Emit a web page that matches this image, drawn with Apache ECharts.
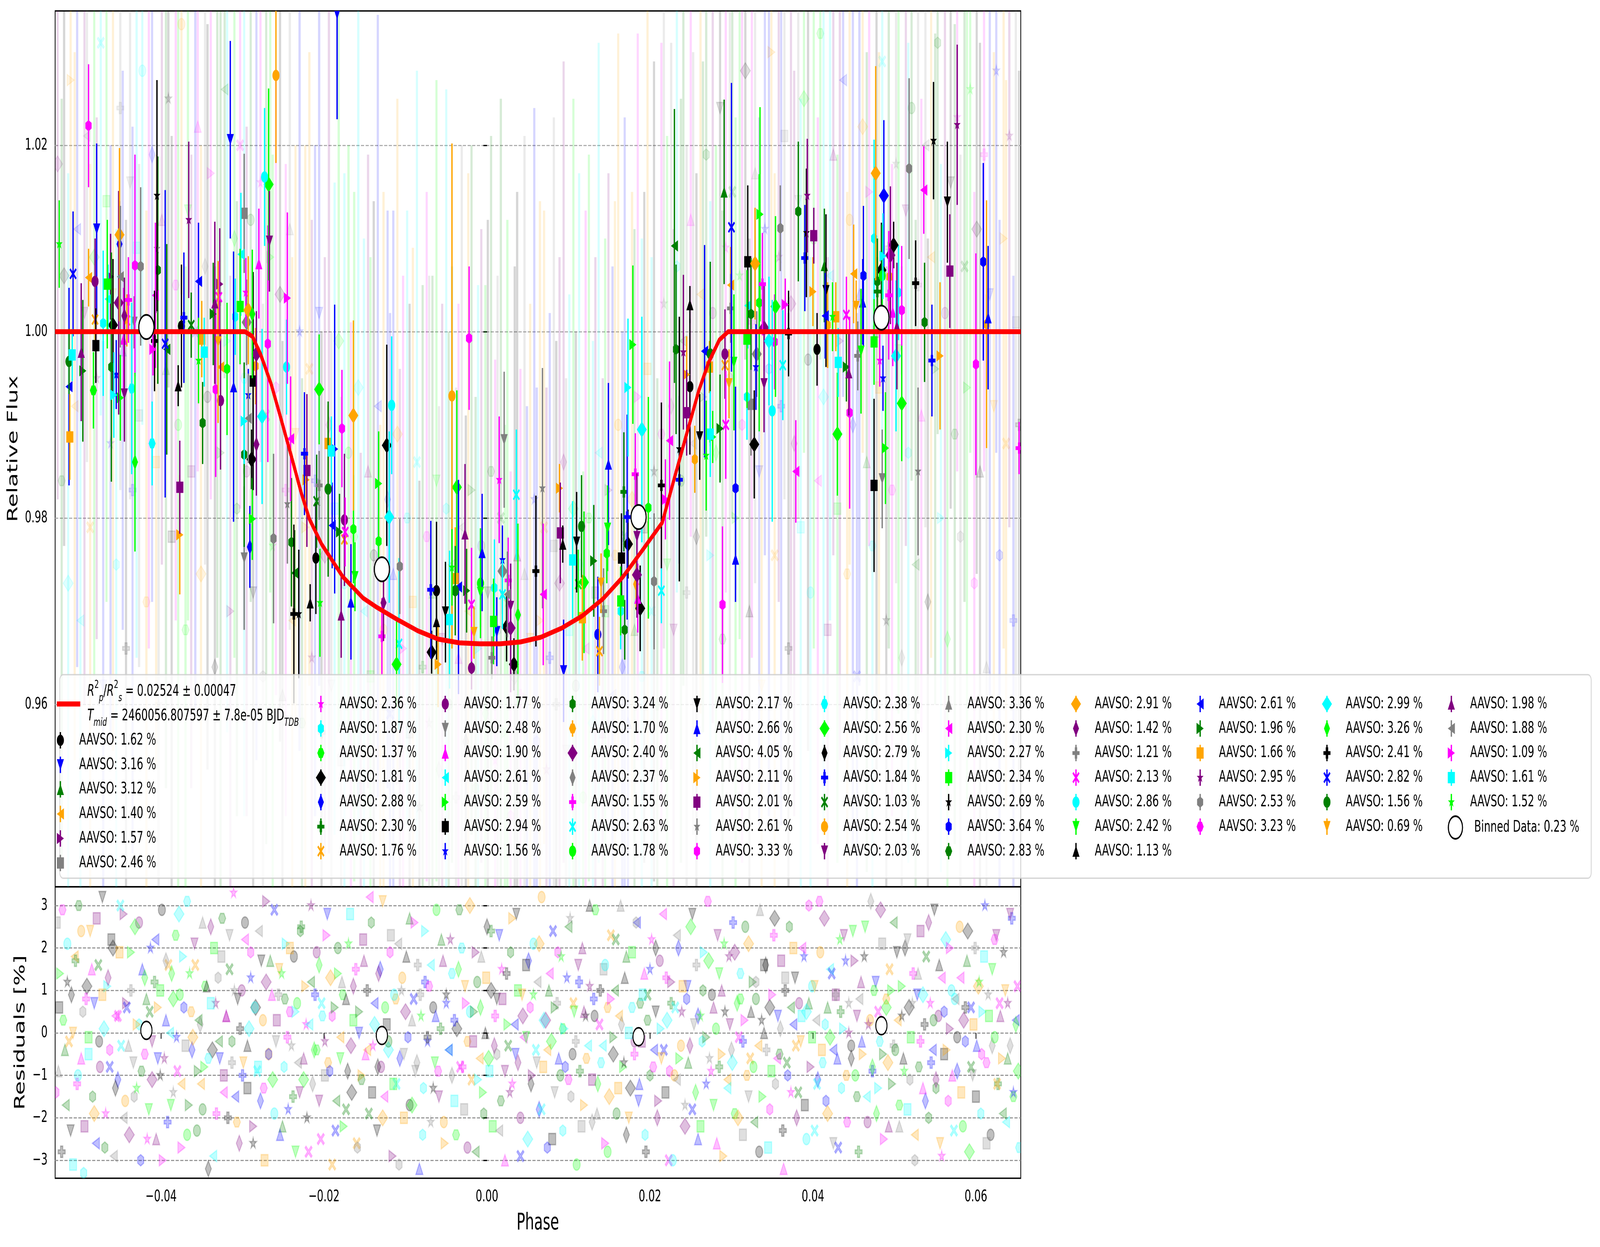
<!DOCTYPE html>
<html lang="en">
<head>
<meta charset="UTF-8">
<title>AAVSO transit fit</title>
<style>
  * { margin: 0; padding: 0; box-sizing: border-box; }
  html, body { width: 100%; height: 100%; background: #fff; overflow: hidden; }
  #chart-container { width: 6560px; height: 3192px; transform-origin: 0 0; }
</style>
</head>
<body>
<div id="chart-container"></div>
<script src="https://cdn.jsdelivr.net/npm/echarts@6.0.0/dist/echarts.min.js"></script>
<script>
// scatter (%) of every AAVSO light curve, legend order
const setLabels = ['1.62','3.16','3.12','1.40','1.57','2.46','2.36','1.87','1.37','1.81','2.88','2.30','1.76',
  '1.77','2.48','1.90','2.61','2.59','2.94','1.56','3.24','1.70','2.40','2.37','1.55','2.63','1.78',
  '2.17','2.66','4.05','2.11','2.01','2.61','3.33','2.38','2.56','2.79','1.84','1.03','2.54','2.03',
  '3.36','2.30','2.27','2.34','2.69','3.64','2.83','2.91','1.42','1.21','2.13','2.86','2.42','1.13',
  '2.61','1.96','1.66','2.95','2.53','3.23','2.99','3.26','2.41','2.82','1.56','0.69','1.98','1.88','1.09','1.61','1.52'];
const setColors = ['#000000', '#0000ff', '#008000', '#ffa500', '#800080', '#808080', '#ff00ff', '#00ffff', '#00ff00'];
const markerKeys = ['o', 'v', '^', '<', '>', 's', '*', 'h', 'H', 'D', 'd', 'P', 'X'];

const fitDepth = '0.02524 ± 0.00047';
const fitTmid = '2460056.807597 ± 7.8e-05';
const binLabel = '0.23';

const xTicks = [-0.04, -0.02, 0, 0.02, 0.04, 0.06];
const fluxTicks = [0.96, 0.98, 1.00, 1.02];
const residTicks = [-3, -2, -1, 0, 1, 2, 3];

// transit model
const modelPhase = [-0.0530, -0.0297, -0.0288, -0.0278, -0.0265, -0.0253, -0.0240, -0.0228, -0.0218, -0.0203, -0.0177, -0.0152,
  -0.0135, -0.0110, -0.0085, -0.0060, -0.0034, -0.0009, 0.0016, 0.0041, 0.0066, 0.0092, 0.0117, 0.0142, 0.0167, 0.0192,
  0.0215, 0.0230, 0.0243, 0.0260, 0.0272, 0.0285, 0.0296, 0.0655];
const modelFlux = [1.0000, 1.0000, 0.9995, 0.9976, 0.9944, 0.9907, 0.9866, 0.9827, 0.9799, 0.9772, 0.9737, 0.9714,
  0.9704, 0.9691, 0.9679, 0.9670, 0.9666, 0.9665, 0.9665, 0.9667, 0.9672, 0.9682, 0.9695, 0.9713, 0.9737, 0.9767,
  0.9795, 0.9843, 0.9884, 0.9937, 0.9967, 0.9991, 1.0000, 1.0000];

// binned data (white circles)
const binPhase = [-0.0418, -0.0129, 0.0186, 0.0484];
const binFlux = [1.0005, 0.9745, 0.9801, 1.0015];
const binResid = [0.06, -0.06, -0.09, 0.17];

// per-set binned points: [colour, marker, phase, flux, err]
const setPoints = [
[8,6,-0.0525,1.0094,0.0047],[1,12,-0.0508,1.0062,0.0067],[1,3,-0.0513,0.9941,0.0106],[3,5,-0.0512,0.9887,0.0046],[7,5,-0.0509,0.9975,0.0028],[2,0,-0.0513,0.9968,0.0035],[4,2,-0.0498,0.9978,0.0074],[2,4,-0.0496,0.9958,0.0076],[6,7,-0.0489,1.0221,0.0066],[4,0,-0.0481,1.0054,0.0046],
[3,3,-0.0489,1.0058,0.0031],[1,1,-0.0479,1.0110,0.0092],[3,12,-0.0481,1.0013,0.0030],[0,5,-0.0480,0.9985,0.0040],[8,8,-0.0483,0.9937,0.0041],[7,7,-0.0471,1.0009,0.0078],[8,5,-0.0466,1.0051,0.0069],[7,3,-0.0465,1.0035,0.0037],[0,9,-0.0459,1.0007,0.0071],[2,7,-0.0461,0.9962,0.0123],
[4,4,-0.0462,1.0059,0.0046],[5,3,-0.0450,1.0059,0.0076],[3,9,-0.0451,1.0104,0.0093],[1,10,-0.0451,1.0094,0.0046],[4,9,-0.0452,1.0031,0.0120],[6,2,-0.0446,0.9992,0.0055],[6,11,-0.0440,1.0034,0.0046],[3,12,-0.0442,1.0012,0.0028],[4,10,-0.0445,1.0017,0.0041],[1,6,-0.0455,0.9954,0.0037],
[7,4,-0.0458,0.9932,0.0046],[8,4,-0.0450,0.9929,0.0046],[4,1,-0.0445,0.9933,0.0051],[7,8,-0.0436,0.9939,0.0092],[6,7,-0.0432,1.0071,0.0119],[5,7,-0.0425,1.0070,0.0085],[5,1,-0.0433,1.0010,0.0028],[8,10,-0.0432,0.9860,0.0096],[7,8,-0.0411,0.9880,0.0045],[6,3,-0.0407,1.0039,0.0078],
[6,4,-0.0410,0.9981,0.0028],[0,6,-0.0405,1.0146,0.0124],[5,6,-0.0405,1.0089,0.0069],[2,7,-0.0404,1.0066,0.0122],[0,11,-0.0408,0.9990,0.0054],[1,12,-0.0395,0.9987,0.0165],[2,3,-0.0393,0.9981,0.0113],[0,0,-0.0375,1.0006,0.0066],[1,11,-0.0372,1.0015,0.0070],[2,12,-0.0363,1.0007,0.0035],
[0,2,-0.0379,0.9942,0.0022],[4,6,-0.0366,1.0120,0.0084],[4,5,-0.0377,0.9833,0.0050],[3,4,-0.0377,0.9782,0.0064],[1,3,-0.0354,1.0054,0.0063],[8,6,-0.0354,0.9969,0.0046],[2,7,-0.0349,0.9902,0.0044],[3,5,-0.0350,0.9992,0.0041],[7,5,-0.0347,0.9978,0.0037],[1,1,-0.0315,1.0206,0.0106],
[2,4,-0.0336,1.0019,0.0055],[4,2,-0.0334,1.0031,0.0087],[4,4,-0.0328,1.0051,0.0060],[6,12,-0.0329,1.0037,0.0038],[3,1,-0.0330,0.9989,0.0087],[3,3,-0.0327,0.9962,0.0028],[6,7,-0.0333,0.9938,0.0094],[4,0,-0.0327,0.9926,0.0074],[8,7,-0.0319,0.9960,0.0071],[1,2,-0.0311,0.9941,0.0145],
[7,3,-0.0302,1.0083,0.0066],[7,7,-0.0309,1.0016,0.0041],[8,5,-0.0303,1.0027,0.0062],[5,5,-0.0298,1.0127,0.0064],[6,6,-0.0296,1.0042,0.0037],[3,9,-0.0293,1.0023,0.0058],[5,9,-0.0295,1.0010,0.0046],[8,10,-0.0288,1.0019,0.0069],[2,7,-0.0298,0.9868,0.0099],[0,5,-0.0287,0.9947,0.0117],
[0,9,-0.0289,0.9863,0.0032],[1,6,-0.0293,0.9932,0.0028],[5,3,-0.0293,0.9907,0.0048],[7,4,-0.0298,0.9904,0.0046],[8,4,-0.0288,0.9799,0.0044],[1,10,-0.0291,0.9769,0.0044],[5,1,-0.0298,0.9757,0.0077],[4,9,-0.0283,0.9976,0.0046],[3,7,-0.0284,0.9963,0.0041],[4,10,-0.0283,0.9879,0.0055],
[7,9,-0.0276,0.9909,0.0094],[6,2,-0.0280,1.0073,0.0059],[6,7,-0.0269,0.9987,0.0127],[7,0,-0.0273,1.0166,0.0074],[8,9,-0.0268,1.0158,0.0103],[4,1,-0.0267,1.0097,0.0054],[3,0,-0.0259,1.0275,0.0094],[5,7,-0.0262,0.9778,0.0091],[6,4,-0.0245,1.0036,0.0092],[7,0,-0.0246,0.9962,0.0051],
[6,3,-0.0241,0.9885,0.0067],[2,7,-0.0240,0.9774,0.0069],[2,3,-0.0236,0.9741,0.0046],[5,6,-0.0245,0.9815,0.0064],[0,11,-0.0237,0.9697,0.0096],[0,6,-0.0231,0.9697,0.0069],[1,11,-0.0224,0.9869,0.0066],[4,5,-0.0221,0.9851,0.0082],[3,4,-0.0222,0.9841,0.0028],[8,9,-0.0206,0.9938,0.0059],
[5,11,-0.0206,0.9835,0.0037],[2,12,-0.0209,0.9818,0.0050],[0,0,-0.0210,0.9757,0.0060],[0,2,-0.0217,0.9709,0.0020],[8,6,-0.0205,0.9709,0.0058],[2,0,-0.0195,0.9831,0.0094],[3,5,-0.0195,0.9880,0.0041],[7,5,-0.0191,0.9872,0.0037],[1,4,-0.0187,0.9874,0.0155],[1,3,-0.0190,0.9792,0.0046],
[2,4,-0.0181,0.9785,0.0041],[6,7,-0.0178,0.9896,0.0063],[4,0,-0.0175,0.9798,0.0071],[6,12,-0.0174,0.9785,0.0037],[3,12,-0.0175,0.9777,0.0046],[3,9,-0.0164,0.9910,0.0102],[8,7,-0.0164,0.9788,0.0058],[8,1,-0.0162,0.9737,0.0037],[1,2,-0.0167,0.9710,0.0062],[4,2,-0.0179,0.9696,0.0046],
[1,1,-0.0184,1.0341,0.0113],
[8,4,-0.0133,0.9837,0.0056],[8,7,-0.0133,0.9775,0.0028],[0,9,-0.0123,0.9878,0.0108],[7,0,-0.0117,0.9921,0.0074],[7,9,-0.0120,0.9801,0.0092],[4,10,-0.0127,0.9709,0.0041],[6,11,-0.0129,0.9673,0.0041],[5,7,-0.0107,0.9748,0.0051],[7,12,-0.0108,0.9665,0.0092],[8,9,-0.0111,0.9643,0.0046],
[1,11,-0.0069,0.9723,0.0074],[0,0,-0.0062,0.9722,0.0074],[0,2,-0.0062,0.9689,0.0028],[0,9,-0.0068,0.9656,0.0023],[0,1,-0.0051,0.9699,0.0054],[3,4,-0.0060,0.9643,0.0046],[7,5,-0.0046,0.9691,0.0074],[3,5,-0.0039,0.9735,0.0055],[2,0,-0.0039,0.9722,0.0048],[8,6,-0.0043,0.9747,0.0041],
[3,0,-0.0043,0.9931,0.0271],[8,9,-0.0037,0.9833,0.0104],[1,3,-0.0035,0.9726,0.0115],[4,2,-0.0027,0.9783,0.0075],[2,4,-0.0025,0.9722,0.0045],[6,7,-0.0022,0.9993,0.0077],[6,12,-0.0019,0.9707,0.0061],[3,1,-0.0016,0.9677,0.0028],[4,0,-0.0019,0.9639,0.0023],[1,2,-0.0006,0.9763,0.0063],
[8,0,-0.0008,0.9730,0.0059],[8,1,-0.0008,0.9720,0.0037],[8,5,0.0008,0.9689,0.0046],[7,7,0.0009,0.9725,0.0052],[1,1,0.0012,0.9678,0.0037],[5,11,0.0006,0.9650,0.0023],[6,6,0.0015,0.9841,0.0068],[5,1,0.0021,0.9884,0.0073],[1,6,0.0019,0.9755,0.0037],[5,9,0.0019,0.9743,0.0046],
[7,12,0.0019,0.9718,0.0037],[6,11,0.0026,0.9733,0.0046],[5,3,0.0025,0.9718,0.0046],[0,9,0.0024,0.9683,0.0037],[4,9,0.0029,0.9682,0.0069],[4,1,0.0029,0.9705,0.0046],[7,12,0.0036,0.9825,0.0070],[8,10,0.0038,0.9696,0.0098],[0,9,0.0033,0.9643,0.0028],[0,11,0.0060,0.9743,0.0081],
[5,6,0.0068,0.9832,0.0129],[6,3,0.0069,0.9718,0.0076],[3,4,0.0089,0.9832,0.0026],[4,5,0.0090,0.9784,0.0054],[0,2,0.0093,0.9772,0.0020],[1,1,0.0094,0.9636,0.0055],[7,5,0.0105,0.9755,0.0063],[0,1,0.0110,0.9774,0.0054],[8,12,0.0112,0.9729,0.0037],[8,9,0.0119,0.9731,0.0076],
[2,0,0.0116,0.9791,0.0055],[3,5,0.0117,0.9693,0.0046],[2,4,0.0131,0.9754,0.0060],[1,0,0.0136,0.9675,0.0062],[3,12,0.0138,0.9657,0.0037],[5,11,0.0143,0.9700,0.0046],[3,1,0.0140,0.9730,0.0032],[1,2,0.0149,0.9858,0.0087],[8,1,0.0148,0.9789,0.0046],[8,7,0.0147,0.9762,0.0032],
[0,5,0.0165,0.9757,0.0048],[8,5,0.0164,0.9711,0.0037],[7,7,0.0164,0.9700,0.0041],[2,7,0.0169,0.9680,0.0032],[2,11,0.0168,0.9828,0.0064],[1,11,0.0172,0.9801,0.0110],[0,9,0.0173,0.9772,0.0037],[7,4,0.0173,0.9940,0.0074],[8,4,0.0179,0.9986,0.0085],[6,11,0.0182,0.9847,0.0044],
[4,1,0.0184,0.9780,0.0068],[4,9,0.0184,0.9739,0.0046],[6,2,0.0185,0.9714,0.0037],[0,9,0.0188,0.9703,0.0046],[3,10,0.0183,0.9729,0.0028],[7,9,0.0190,0.9895,0.0121],[8,7,0.0198,0.9811,0.0119],[5,7,0.0205,0.9732,0.0073],[0,11,0.0214,0.9835,0.0089],[7,12,0.0214,0.9722,0.0035],
[6,3,0.0224,0.9883,0.0085],[6,4,0.0219,0.9820,0.0043],[2,3,0.0230,1.0092,0.0147],[2,7,0.0232,0.9981,0.0091],[4,6,0.0241,0.9978,0.0083],[0,2,0.0249,1.0029,0.0020],[3,4,0.0245,0.9954,0.0041],[0,0,0.0249,0.9941,0.0073],[4,5,0.0245,0.9913,0.0046],[3,7,0.0255,0.9863,0.0036],
[1,11,0.0236,0.9841,0.0090],[0,6,0.0236,0.9874,0.0142],
[0,1,0.0261,0.9887,0.0046],[1,3,0.0267,0.9979,0.0114],[2,0,0.0274,0.9976,0.0099],[3,5,0.0273,0.9962,0.0028],[7,5,0.0274,0.9890,0.0046],[8,6,0.0269,0.9867,0.0059],[8,4,0.0277,0.9887,0.0028],[2,4,0.0286,0.9896,0.0058],[4,0,0.0292,0.9976,0.0048],[3,12,0.0292,0.9964,0.0028],
[6,12,0.0293,0.9900,0.0058],[6,7,0.0289,0.9707,0.0084],[2,2,0.0291,1.0150,0.0099],[1,12,0.0300,1.0112,0.0155],[5,11,0.0299,1.0025,0.0037],[3,3,0.0299,1.0050,0.0041],[3,1,0.0297,0.9944,0.0037],[8,1,0.0303,0.9967,0.0073],[1,7,0.0305,0.9832,0.0109],[1,2,0.0305,0.9756,0.0046],
[0,5,0.0320,1.0075,0.0082],[3,9,0.0329,1.0073,0.0060],[8,4,0.0335,1.0126,0.0115],[7,3,0.0320,1.0028,0.0046],[8,5,0.0319,0.9992,0.0074],[7,7,0.0319,0.9930,0.0046],[5,5,0.0324,0.9922,0.0055],[0,9,0.0328,0.9879,0.0058],[2,7,0.0324,1.0019,0.0060],[8,7,0.0334,1.0031,0.0138],
[6,11,0.0338,1.0051,0.0055],[5,9,0.0331,0.9976,0.0046],[1,6,0.0330,0.9962,0.0046],[4,9,0.0340,1.0004,0.0046],[4,1,0.0340,0.9944,0.0052],[7,9,0.0346,0.9990,0.0069],[7,0,0.0350,0.9915,0.0119],[6,7,0.0353,0.9989,0.0051],[8,9,0.0354,1.0027,0.0097],[5,7,0.0360,1.0111,0.0046],
[7,12,0.0363,0.9964,0.0059],[6,4,0.0366,1.0029,0.0028],[0,11,0.0370,0.9998,0.0046],[6,3,0.0379,0.9850,0.0055],[2,7,0.0382,1.0129,0.0075],[4,6,0.0393,1.0146,0.0061],[0,6,0.0392,1.0106,0.0069],[1,11,0.0390,1.0079,0.0057],[4,5,0.0401,1.0103,0.0030],[3,4,0.0400,1.0043,0.0037],
[0,0,0.0405,0.9981,0.0039],[2,2,0.0414,1.0071,0.0061],[0,1,0.0416,1.0044,0.0082],[1,3,0.0415,1.0017,0.0046],[8,6,0.0424,1.0016,0.0037],[3,5,0.0428,1.0016,0.0037],[3,7,0.0418,1.0007,0.0046],[7,5,0.0431,0.9967,0.0037],[8,9,0.0430,0.9890,0.0066],[2,4,0.0441,0.9962,0.0037],
[4,2,0.0444,0.9956,0.0046],[6,12,0.0441,1.0018,0.0041],[6,7,0.0445,0.9913,0.0103],[3,3,0.0450,1.0062,0.0053],[3,1,0.0453,1.0027,0.0028],[5,11,0.0455,0.9974,0.0037],[8,1,0.0459,0.9979,0.0067],[1,2,0.0461,1.0032,0.0046],[1,7,0.0462,1.0060,0.0075],[3,9,0.0477,1.0170,0.0115],
[1,9,0.0487,1.0146,0.0081],[8,5,0.0475,0.9989,0.0046],[0,5,0.0475,0.9835,0.0093],[5,1,0.0485,0.9842,0.0053],[2,7,0.0479,1.0054,0.0046],[2,11,0.0479,1.0043,0.0037],[0,9,0.0484,1.0066,0.0051],[7,7,0.0475,1.0100,0.0106],[8,0,0.0485,1.0060,0.0055],[7,4,0.0486,1.0081,0.0046],
[4,9,0.0495,1.0082,0.0074],[3,7,0.0494,1.0059,0.0037],[6,11,0.0493,1.0039,0.0069],[6,2,0.0498,1.0021,0.0058],[6,6,0.0482,0.9969,0.0028],[1,6,0.0486,0.9950,0.0035],[8,4,0.0489,0.9875,0.0060],[4,2,0.0503,1.0006,0.0068],[0,9,0.0499,1.0093,0.0025],[7,7,0.0505,1.0042,0.0051],
[6,7,0.0509,1.0023,0.0069],[7,9,0.0502,0.9974,0.0081],[8,9,0.0509,0.9923,0.0062],[5,7,0.0518,1.0175,0.0097],[0,11,0.0526,1.0052,0.0046],[6,3,0.0536,1.0152,0.0047],[2,7,0.0537,1.0010,0.0064],[1,11,0.0546,0.9969,0.0060],[5,6,0.0529,0.9850,0.0090],[3,4,0.0556,0.9974,0.0079],
[0,6,0.0548,1.0205,0.0063],[0,1,0.0565,1.0139,0.0065],[4,5,0.0568,1.0065,0.0061],[4,6,0.0577,1.0222,0.0086],[6,7,0.0600,0.9965,0.0119],[1,7,0.0609,1.0075,0.0106],[3,7,0.0613,1.0008,0.0133],[1,2,0.0615,1.0015,0.0077],[6,11,0.0653,0.9875,0.0028]
];

// unbinned points (faint): [set, phase, flux, err]
const rawPoints = [
[22,-0.0527,1.018,0.036],[47,-0.0522,0.984,0.041],[9,-0.0519,1.006,0.029],[61,-0.0514,0.973,0.044],[30,-0.0511,1.027,0.033],[3,-0.0506,0.992,0.038],[55,-0.0503,1.011,0.047],[16,-0.0499,0.969,0.031],[40,-0.0494,1.002,0.042],[68,-0.0491,1.021,0.035],
[12,-0.0487,0.979,0.039],[35,-0.0482,1.008,0.045],[58,-0.0479,0.995,0.028],[25,-0.0474,1.031,0.040],[1,-0.0471,0.962,0.037],[44,-0.0467,1.014,0.043],[19,-0.0462,0.988,0.032],[66,-0.0459,1.004,0.049],[7,-0.0455,0.975,0.036],[50,-0.0450,1.024,0.041],
[28,-0.0447,0.998,0.030],[63,-0.0443,0.966,0.046],[14,-0.0438,1.016,0.034],[37,-0.0435,0.983,0.039],[70,-0.0430,1.009,0.044],[5,-0.0427,0.991,0.027],[52,-0.0423,1.028,0.038],[21,-0.0418,0.971,0.042],[42,-0.0415,1.001,0.035],[10,-0.0411,1.019,0.048],
[57,-0.0406,0.986,0.033],[32,-0.0403,0.960,0.040],[67,-0.0399,1.012,0.037],[2,-0.0394,0.996,0.045],[45,-0.0391,1.025,0.031],[18,-0.0387,0.978,0.043],[60,-0.0382,1.005,0.036],[26,-0.0379,0.990,0.050],[39,-0.0375,1.033,0.029],[8,-0.0370,0.968,0.039],
[53,-0.0367,1.013,0.044],[31,-0.0363,0.985,0.034],[64,-0.0358,1.000,0.041],[15,-0.0355,1.022,0.037],[48,-0.0351,0.974,0.046],[23,-0.0346,1.007,0.032],[0,-0.0343,0.993,0.040],[69,-0.0339,1.017,0.035],[36,-0.0334,0.964,0.043],[11,-0.0331,1.003,0.038],
[56,-0.0327,0.987,0.048],[29,-0.0322,1.026,0.031],[43,-0.0319,0.999,0.042],[4,-0.0315,0.970,0.036],[62,-0.0310,1.010,0.045],[20,-0.0307,0.981,0.033],[51,-0.0303,1.020,0.039],[34,-0.0298,0.995,0.047],
[13,-0.0295,0.985,0.037],[65,-0.0290,1.012,0.041],[27,-0.0287,0.972,0.034],[46,-0.0283,0.998,0.044],[6,-0.0278,1.016,0.030],[59,-0.0275,0.963,0.040],[38,-0.0271,0.991,0.046],[17,-0.0266,1.008,0.036],[71,-0.0263,0.977,0.042],[33,-0.0259,0.994,0.033],
[9,-0.0254,1.004,0.048],[54,-0.0251,0.961,0.038],[24,-0.0247,0.983,0.035],[41,-0.0242,1.011,0.043],[3,-0.0239,0.969,0.039],[66,-0.0235,0.989,0.031],[19,-0.0230,1.000,0.045],[47,-0.0227,0.958,0.037],[30,-0.0223,0.979,0.041],[12,-0.0218,0.996,0.034],
[58,-0.0215,0.965,0.047],[37,-0.0211,0.984,0.036],[1,-0.0206,1.002,0.040],[63,-0.0203,0.957,0.043],[22,-0.0199,0.976,0.032],[49,-0.0194,0.990,0.046],[14,-0.0191,0.962,0.038],[70,-0.0187,0.981,0.035],[35,-0.0182,0.999,0.042],[5,-0.0179,0.954,0.039],
[52,-0.0175,0.973,0.044],[26,-0.0170,0.987,0.033],[42,-0.0167,0.960,0.041],[8,-0.0163,0.978,0.037],[61,-0.0158,0.994,0.048],[31,-0.0155,0.951,0.036],[16,-0.0151,0.970,0.040],[67,-0.0146,0.985,0.034],[44,-0.0143,0.963,0.045],[0,-0.0139,0.976,0.038],
[55,-0.0134,0.992,0.042],[21,-0.0131,0.955,0.035],[39,-0.0127,0.968,0.047],[10,-0.0122,0.982,0.031],[64,-0.0119,0.959,0.043],[28,-0.0115,0.974,0.039],[48,-0.0110,0.989,0.036],[4,-0.0107,0.952,0.044],[69,-0.0103,0.966,0.040],[34,-0.0098,0.980,0.033],
[18,-0.0095,0.957,0.046],[57,-0.0091,0.971,0.038],[25,-0.0086,0.986,0.042],[45,-0.0083,0.949,0.035],[11,-0.0079,0.964,0.041],[60,-0.0074,0.978,0.037],[32,-0.0071,0.958,0.048],[2,-0.0067,0.972,0.034],[53,-0.0062,0.984,0.043],[23,-0.0059,0.953,0.039],
[40,-0.0055,0.967,0.036],[7,-0.0050,0.981,0.045],[65,-0.0047,0.960,0.040],[29,-0.0043,0.975,0.032],[50,-0.0038,0.950,0.044],[15,-0.0035,0.965,0.038],[68,-0.0031,0.979,0.041],[36,-0.0026,0.956,0.035],[3,-0.0023,0.970,0.047],[56,-0.0019,0.983,0.037],
[20,-0.0014,0.951,0.042],[43,-0.0011,0.966,0.039],[13,-0.0007,0.977,0.034],[62,-0.0002,0.959,0.046],[27,0.0001,0.972,0.040],[47,0.0005,0.985,0.036],[6,0.0010,0.954,0.043],[59,0.0013,0.968,0.038],[38,0.0017,0.980,0.045],[17,0.0022,0.957,0.033],
[71,0.0025,0.971,0.041],[33,0.0029,0.948,0.037],[9,0.0034,0.963,0.044],[54,0.0037,0.976,0.039],[24,0.0041,0.961,0.035],[41,0.0046,0.974,0.047],[1,0.0049,0.952,0.040],[66,0.0053,0.967,0.036],[19,0.0058,0.982,0.042],[46,0.0061,0.956,0.038],
[30,0.0065,0.969,0.045],[12,0.0070,0.979,0.034],[58,0.0073,0.953,0.041],[37,0.0077,0.965,0.037],[5,0.0082,0.977,0.046],[63,0.0085,0.960,0.039],[22,0.0089,0.973,0.035],[49,0.0094,0.986,0.043],[14,0.0097,0.955,0.040],[70,0.0101,0.968,0.036],
[35,0.0106,0.981,0.044],[0,0.0109,0.962,0.038],[52,0.0113,0.975,0.042],[26,0.0118,0.950,0.035],[42,0.0121,0.966,0.047],[8,0.0125,0.980,0.039],[61,0.0130,0.958,0.041],[31,0.0133,0.972,0.036],[16,0.0137,0.987,0.044],[67,0.0142,0.957,0.038],
[44,0.0145,0.970,0.040],[4,0.0149,0.983,0.034],[55,0.0154,0.961,0.046],[21,0.0157,0.976,0.038],[39,0.0161,0.990,0.042],[10,0.0166,0.964,0.036],[64,0.0169,0.978,0.045],[28,0.0173,0.958,0.040],[48,0.0178,0.982,0.033],[2,0.0181,0.968,0.043],
[69,0.0185,0.993,0.039],[34,0.0190,0.963,0.047],[18,0.0193,0.979,0.036],[57,0.0197,0.996,0.041],[25,0.0202,0.970,0.038],[45,0.0205,0.985,0.044],[11,0.0209,0.960,0.035],[60,0.0214,0.989,0.042],[32,0.0217,1.003,0.037],[53,0.0221,0.975,0.046],
[23,0.0226,0.992,0.039],[40,0.0229,0.968,0.043],[7,0.0233,1.007,0.035],[65,0.0238,0.984,0.041],[29,0.0241,0.999,0.037],[50,0.0245,0.972,0.048],[15,0.0250,1.012,0.034],[68,0.0253,0.988,0.042],[36,0.0257,0.978,0.039],[3,0.0262,1.004,0.045],
[56,0.0265,0.993,0.036],[20,0.0269,1.019,0.041],[43,0.0274,0.976,0.038],[13,0.0277,1.002,0.044],[62,0.0281,0.987,0.033],[27,0.0286,1.024,0.040],[47,0.0289,0.967,0.046],[6,0.0293,1.009,0.037],[59,0.0298,0.995,0.042],[38,0.0301,1.015,0.035],
[17,0.0305,0.980,0.043],[71,0.0310,1.006,0.039],[33,0.0313,0.990,0.047],[9,0.0317,1.028,0.031],[54,0.0322,0.970,0.040],[24,0.0325,1.001,0.036],[41,0.0329,1.017,0.044],[1,0.0334,0.985,0.038],[66,0.0337,0.962,0.042],[19,0.0341,1.011,0.035],
[46,0.0346,0.996,0.048],[30,0.0349,1.030,0.033],[12,0.0353,0.976,0.041],[58,0.0358,1.008,0.037],[37,0.0361,0.992,0.045],[5,0.0365,1.021,0.039],[63,0.0370,0.966,0.036],[22,0.0373,1.003,0.043],[49,0.0377,0.988,0.040],[14,0.0382,1.014,0.034],
[70,0.0385,0.979,0.046],[35,0.0389,1.025,0.038],[0,0.0394,0.997,0.042],[52,0.0397,0.972,0.036],[26,0.0401,1.010,0.044],[42,0.0406,0.984,0.039],[8,0.0409,1.032,0.035],[61,0.0413,0.993,0.047],[31,0.0418,0.968,0.040],[16,0.0421,1.006,0.037],
[67,0.0425,1.019,0.043],[44,0.0430,0.981,0.038],[4,0.0433,0.999,0.045],[55,0.0437,1.027,0.034],[21,0.0442,0.974,0.041],[39,0.0445,1.012,0.037],[10,0.0449,0.990,0.046],[64,0.0454,0.963,0.039],[28,0.0457,1.004,0.042],[48,0.0461,1.022,0.035],
[2,0.0466,0.986,0.044],[69,0.0469,1.015,0.038],[34,0.0473,0.977,0.040],[18,0.0478,1.000,0.047],[57,0.0481,0.994,0.036],[25,0.0485,1.029,0.041],[45,0.0490,0.969,0.038],[11,0.0493,1.009,0.043],[60,0.0497,0.983,0.035],[32,0.0502,1.018,0.045],
[53,0.0505,0.998,0.039],[23,0.0509,0.965,0.042],[40,0.0514,1.013,0.036],[7,0.0517,0.987,0.044],[65,0.0521,1.024,0.040],[29,0.0526,0.975,0.037],[50,0.0529,1.005,0.046],[15,0.0533,0.991,0.034],[68,0.0538,1.020,0.041],[36,0.0541,0.971,0.039],
[3,0.0545,1.008,0.043],[56,0.0550,0.996,0.036],[20,0.0553,1.031,0.042],[43,0.0557,0.980,0.038],[13,0.0562,1.002,0.047],[62,0.0565,0.967,0.040],[27,0.0569,1.016,0.035],[47,0.0574,0.989,0.044],[6,0.0577,1.023,0.038],[59,0.0581,0.978,0.041],
[38,0.0586,1.007,0.036],[17,0.0589,0.994,0.045],[71,0.0593,1.026,0.039],[33,0.0598,0.973,0.042],[9,0.0601,1.011,0.037],[54,0.0605,0.985,0.046],[24,0.0610,1.019,0.034],[41,0.0613,0.964,0.040],[1,0.0617,1.004,0.043],[66,0.0622,0.992,0.038],
[19,0.0625,1.028,0.041],[46,0.0629,0.976,0.036],[30,0.0634,1.010,0.044],[12,0.0637,0.988,0.039],[58,0.0641,1.021,0.042],[37,0.0646,0.969,0.037],[5,0.0649,1.001,0.045],[63,0.0653,0.990,0.038]
];

// residuals in %: [set, phase, resid]
const residPoints = [
[5,-0.0528,2.6],[41,-0.0526,-0.9],[17,-0.0524,1.4],[63,-0.0522,-2.8],[8,-0.0520,0.3],[29,-0.0517,-1.7],[52,-0.0515,2.1],[12,-0.0513,-0.2],
[36,-0.0510,0.9],[70,-0.0508,-3.1],[3,-0.0506,1.8],[24,-0.0503,-1.2],[47,-0.0501,3.0],[15,-0.0498,-0.6],[59,-0.0496,0.5],[31,-0.0494,-2.2],
[9,-0.0491,1.1],[44,-0.0489,-0.1],[66,-0.0487,2.4],[20,-0.0484,-1.5],[1,-0.0482,0.7],[55,-0.0480,-2.6],[38,-0.0477,1.6],[13,-0.0475,-0.8],
[27,-0.0472,3.2],[61,-0.0470,0.1],[6,-0.0468,-1.9],[49,-0.0465,1.3],[33,-0.0463,-0.4],[18,-0.0461,2.2],[68,-0.0458,-2.9],[42,-0.0456,0.4],
[10,-0.0453,-1.1],[57,-0.0451,1.9],[25,-0.0449,-0.3],[4,-0.0446,2.8],[39,-0.0444,-1.6],[64,-0.0442,0.6],[22,-0.0439,-2.4],[50,-0.0437,1.0],
[14,-0.0434,-0.7],[35,-0.0432,2.5],[71,-0.0430,-1.3],[7,-0.0427,0.2],[46,-0.0425,-3.0],[28,-0.0423,1.5],[60,-0.0420,-0.5],[2,-0.0418,0.8],
[53,-0.0415,-1.8],[19,-0.0413,2.0],[40,-0.0411,-0.2],[11,-0.0408,1.2],[67,-0.0406,-2.5],[30,-0.0404,0.6],[45,-0.0401,-1.0],[0,-0.0399,2.9],
[58,-0.0396,-0.6],[23,-0.0394,1.7],[37,-0.0392,-2.1],[16,-0.0389,0.0],[62,-0.0387,1.4],[32,-0.0385,-1.4],[8,-0.0382,2.3],[51,-0.0380,-0.9],
[26,-0.0377,0.9],[69,-0.0375,-2.7],[43,-0.0373,1.8],[5,-0.0370,-0.3],[34,-0.0368,3.1],[56,-0.0366,-1.7],[21,-0.0363,0.5],[48,-0.0361,-0.1],
[12,-0.0358,1.6],[65,-0.0356,-2.3],[29,-0.0354,0.3],[3,-0.0351,-1.2],[41,-0.0349,2.6],[17,-0.0347,-0.8],[54,-0.0344,1.1],[36,-0.0342,-3.2],
[70,-0.0339,0.7],[9,-0.0337,-0.4],[44,-0.0335,2.0],[24,-0.0332,-1.9],[59,-0.0330,1.3],[1,-0.0328,-0.6],[47,-0.0325,2.7],[31,-0.0323,-1.0],
[15,-0.0320,0.4],[63,-0.0318,-2.0],[38,-0.0316,1.5],[20,-0.0313,-0.2],[6,-0.0311,3.3],[55,-0.0309,-1.5],[27,-0.0306,0.8],[49,-0.0304,-2.6],
[13,-0.0301,1.0],[66,-0.0299,-0.7],[42,-0.0297,2.2],[18,-0.0294,-1.3],[61,-0.0292,0.1],[33,-0.0290,1.9],[4,-0.0287,-2.2],[52,-0.0285,0.6],
[25,-0.0282,-0.9],[68,-0.0280,2.4],[10,-0.0278,-1.6],[39,-0.0275,0.3],[57,-0.0273,-3.0],[22,-0.0271,1.2],[46,-0.0268,-0.5],[2,-0.0266,1.7],
[35,-0.0263,-1.1],[64,-0.0261,2.9],[14,-0.0259,-0.2],[50,-0.0256,0.9],[28,-0.0254,-2.4],[71,-0.0252,1.4],[7,-0.0249,-0.8],[43,-0.0247,2.1],
[19,-0.0244,-1.8],[60,-0.0242,0.5],[32,-0.0240,-0.3],[0,-0.0237,1.8],[53,-0.0235,-2.8],[26,-0.0233,0.7],[40,-0.0230,-1.4],[11,-0.0228,2.5],
[67,-0.0225,-0.6],[30,-0.0223,1.1],[45,-0.0221,-2.0],[16,-0.0218,0.2],[58,-0.0216,3.0],[23,-0.0214,-1.2],[37,-0.0211,0.9],[8,-0.0209,-0.4],
[62,-0.0206,1.6],[51,-0.0204,-2.5],[34,-0.0202,0.4],[5,-0.0199,-1.0],[69,-0.0197,2.3],[21,-0.0195,-0.7],[48,-0.0192,1.3],[12,-0.0190,-3.1],
[56,-0.0187,0.6],[29,-0.0185,-1.6],[65,-0.0183,2.0],[3,-0.0180,-0.1],[41,-0.0178,1.2],[17,-0.0176,-2.2],[54,-0.0173,0.8],[36,-0.0171,-0.9],
[70,-0.0168,2.8],[9,-0.0166,-1.4],[44,-0.0164,0.3],[24,-0.0161,1.5],[59,-0.0159,-2.7],[1,-0.0157,0.0],[47,-0.0154,-1.1],[31,-0.0152,2.2],
[15,-0.0149,-0.5],[63,-0.0147,1.0],[38,-0.0145,-1.9],[20,-0.0142,2.6],[6,-0.0140,-0.3],[55,-0.0138,0.7],[27,-0.0135,-2.3],[49,-0.0133,1.4],
[13,-0.0130,-0.8],[66,-0.0128,3.1],[42,-0.0126,-1.5],[18,-0.0123,0.2],[61,-0.0121,-0.4],[33,-0.0119,1.9],[4,-0.0116,-2.9],[52,-0.0114,0.9],
[25,-0.0111,-1.2],[68,-0.0109,2.1],[10,-0.0107,-0.6],[39,-0.0104,1.3],[57,-0.0102,-2.0],[22,-0.0100,0.5],[46,-0.0097,-0.1],[2,-0.0095,2.7],
[35,-0.0092,-1.7],[64,-0.0090,0.8],[14,-0.0088,-0.9],[50,-0.0085,1.6],[28,-0.0083,-3.2],[71,-0.0081,0.4],[7,-0.0078,-1.3],[43,-0.0076,2.4],
[19,-0.0073,-0.2],[60,-0.0071,1.1],[32,-0.0069,-2.1],[0,-0.0066,0.6],[53,-0.0064,-0.7],[26,-0.0062,2.9],[40,-0.0059,-1.5],[11,-0.0057,0.1],
[67,-0.0054,1.7],[30,-0.0052,-2.6],[45,-0.0050,0.9],[16,-0.0047,-0.4],[58,-0.0045,2.2],[23,-0.0043,-1.0],[37,-0.0040,0.3],[8,-0.0038,-2.4],
[62,-0.0035,1.5],[51,-0.0033,-0.8],[34,-0.0031,2.0],[5,-0.0028,-1.8],[69,-0.0026,0.7],[21,-0.0024,-0.2],[48,-0.0021,3.0],[12,-0.0019,-1.1],
[56,-0.0016,0.5],[29,-0.0014,-2.8],[65,-0.0012,1.2],[3,-0.0009,-0.6],[41,-0.0007,1.8],[17,-0.0005,-1.4],[54,-0.0002,0.0],[36,0.0000,2.5],
[70,0.0003,-0.9],[9,0.0005,1.0],[44,0.0007,-2.2],[24,0.0010,0.4],[59,0.0012,-0.5],[1,0.0015,2.3],[47,0.0017,-1.6],[31,0.0019,0.8],
[15,0.0022,-3.0],[63,0.0024,1.4],[38,0.0026,-0.3],[20,0.0029,1.9],[6,0.0031,-1.2],[55,0.0034,0.2],[27,0.0036,2.8],[49,0.0038,-0.7],
[13,0.0041,-2.0],[66,0.0043,0.9],[42,0.0045,-0.1],[18,0.0048,1.6],[61,0.0050,-2.5],[33,0.0053,0.6],[4,0.0055,-1.0],[52,0.0057,2.1],
[25,0.0060,-0.4],[68,0.0062,1.2],[10,0.0064,-1.8],[39,0.0067,3.2],[57,0.0069,-0.8],[22,0.0072,0.3],[46,0.0074,-2.7],[2,0.0076,1.0],
[35,0.0079,-0.2],[64,0.0081,2.4],[14,0.0083,-1.4],[50,0.0086,0.7],[28,0.0088,-0.6],[71,0.0091,1.8],[7,0.0093,-2.3],[43,0.0095,0.1],
[19,0.0098,1.3],[60,0.0100,-1.1],[32,0.0102,2.7],[0,0.0105,-0.5],[53,0.0107,0.5],[26,0.0110,-3.1],[40,0.0112,1.6],[11,0.0114,-0.9],
[67,0.0117,2.0],[30,0.0119,-1.7],[45,0.0121,0.4],[16,0.0124,-0.3],[58,0.0126,1.1],[23,0.0129,-2.1],[37,0.0131,0.8],[8,0.0133,2.9],
[62,0.0136,-1.2],[51,0.0138,0.2],[34,0.0140,-0.7],[5,0.0143,1.5],[69,0.0145,-2.6],[21,0.0148,0.6],[48,0.0150,-1.5],[12,0.0152,2.3],
[56,0.0155,-0.1],[29,0.0157,1.0],[65,0.0159,-1.9],[3,0.0162,0.4],[41,0.0164,3.0],[17,0.0167,-0.8],[54,0.0169,1.3],[36,0.0171,-2.4],
[70,0.0174,0.0],[9,0.0176,-1.3],[44,0.0178,1.9],[24,0.0181,-0.5],[59,0.0183,2.6],[1,0.0186,-1.6],[47,0.0188,0.7],[31,0.0190,-0.2],
[15,0.0193,1.4],[63,0.0195,-2.8],[38,0.0197,0.9],[20,0.0200,-1.0],[6,0.0202,2.2],[55,0.0205,-0.4],[27,0.0207,0.5],[49,0.0209,-2.0],
[13,0.0212,1.7],[66,0.0214,-0.6],[42,0.0216,2.8],[18,0.0219,-1.4],[61,0.0221,0.3],[33,0.0224,-0.9],[4,0.0226,1.2],[52,0.0228,-3.0],
[25,0.0231,0.6],[68,0.0233,-1.1],[10,0.0235,2.0],[39,0.0238,-0.3],[57,0.0240,1.1],[22,0.0243,-2.2],[46,0.0245,0.8],[2,0.0247,-0.7],
[35,0.0250,2.5],[64,0.0252,-1.8],[14,0.0254,0.2],[50,0.0257,1.6],[28,0.0259,-2.5],[71,0.0262,0.4],[7,0.0264,-0.2],[43,0.0266,1.9],
[19,0.0269,-1.2],[60,0.0271,3.1],[32,0.0273,-0.6],[0,0.0276,0.9],[53,0.0278,-1.7],[26,0.0281,0.1],[40,0.0283,2.3],[11,0.0285,-0.8],
[67,0.0288,1.0],[30,0.0290,-2.9],[45,0.0292,0.5],[16,0.0295,-1.3],[58,0.0297,1.8],[23,0.0300,-0.4],[37,0.0302,2.6],[8,0.0304,-1.9],
[62,0.0307,0.7],[51,0.0309,-0.1],[34,0.0311,1.4],[5,0.0314,-2.4],[69,0.0316,0.3],[21,0.0319,-1.0],[48,0.0321,2.1],[12,0.0323,-0.6],
[56,0.0326,1.2],[29,0.0328,-2.1],[65,0.0330,0.8],[3,0.0333,-0.3],[41,0.0335,2.9],[17,0.0338,-1.5],[54,0.0340,0.0],[36,0.0342,1.6],
[70,0.0345,-2.7],[9,0.0347,0.6],[44,0.0349,-0.9],[24,0.0352,2.3],[59,0.0354,-1.2],[1,0.0357,0.4],[47,0.0359,-0.5],[31,0.0361,1.7],
[15,0.0364,-3.2],[63,0.0366,1.0],[38,0.0368,-0.7],[20,0.0371,2.5],[6,0.0373,-1.4],[55,0.0376,0.2],[27,0.0378,1.3],[49,0.0380,-2.0],
[13,0.0383,0.7],[66,0.0385,-0.2],[42,0.0387,2.0],[18,0.0390,-1.7],[61,0.0392,0.5],[33,0.0395,3.0],[4,0.0397,-0.8],[52,0.0399,1.1],
[25,0.0402,-2.3],[68,0.0404,0.3],[10,0.0406,-1.1],[39,0.0409,1.9],[57,0.0411,-0.4],[22,0.0414,2.7],[46,0.0416,-1.6],[2,0.0418,0.6],
[35,0.0421,-0.1],[64,0.0423,1.4],[14,0.0425,-2.6],[50,0.0428,0.9],[28,0.0430,-0.6],[71,0.0433,2.2],[7,0.0435,-1.3],[43,0.0437,0.1],
[19,0.0440,1.7],[60,0.0442,-2.1],[32,0.0444,0.7],[0,0.0447,-0.3],[53,0.0449,2.4],[26,0.0452,-1.0],[40,0.0454,0.4],[11,0.0456,-2.8],
[67,0.0459,1.2],[30,0.0461,-0.5],[45,0.0463,1.8],[16,0.0466,-1.5],[58,0.0468,0.2],[23,0.0471,3.1],[37,0.0473,-0.9],[8,0.0475,1.0],
[62,0.0478,-1.9],[51,0.0480,0.5],[34,0.0482,-0.2],[5,0.0485,2.1],[69,0.0487,-2.5],[21,0.0490,0.8],[48,0.0492,-0.7],[12,0.0494,1.5],
[56,0.0497,-1.2],[29,0.0499,2.6],[65,0.0501,-0.4],[3,0.0504,0.3],[41,0.0506,-2.2],[17,0.0509,1.1],[54,0.0511,-0.6],[36,0.0513,2.0],
[70,0.0516,-1.8],[9,0.0518,0.6],[44,0.0520,-0.1],[24,0.0523,1.4],[59,0.0525,-3.0],[1,0.0528,0.9],[47,0.0530,-0.8],[31,0.0532,2.4],
[15,0.0535,-1.3],[63,0.0537,0.2],[38,0.0539,1.8],[20,0.0542,-2.0],[6,0.0544,0.7],[55,0.0547,-0.4],[27,0.0549,2.9],[49,0.0551,-1.1],
[13,0.0554,0.4],[66,0.0556,-2.6],[42,0.0558,1.3],[18,0.0561,-0.5],[61,0.0563,2.2],[33,0.0566,-1.6],[4,0.0568,0.1],[52,0.0570,1.0],
[25,0.0573,-2.3],[68,0.0575,0.8],[10,0.0577,-0.9],[39,0.0580,2.5],[57,0.0582,-1.4],[22,0.0585,0.3],[46,0.0587,-0.2],[2,0.0589,1.7],
[35,0.0592,-2.8],[64,0.0594,0.6],[14,0.0596,-1.0],[50,0.0599,2.0],[28,0.0601,-0.3],[71,0.0604,1.2],[7,0.0606,-1.9],[43,0.0608,0.5],
[19,0.0611,3.0],[60,0.0613,-0.7],[32,0.0615,0.9],[0,0.0618,-2.4],[53,0.0620,1.5],[26,0.0623,-0.1],[40,0.0625,2.3],[11,0.0627,-1.2],
[67,0.0630,0.4],[30,0.0632,-0.6],[45,0.0634,1.9],[16,0.0637,-2.1],[58,0.0639,0.7],[23,0.0642,-0.3],[37,0.0644,2.7],[8,0.0646,-1.5],
[62,0.0649,0.2],[51,0.0651,1.1],[34,0.0653,-2.7],
[33,-0.0529,-1.4],[18,-0.0525,0.6],[60,-0.0521,2.9],[2,-0.0518,-0.4],[45,-0.0515,1.2],[27,-0.0511,-2.3],[66,-0.0508,0.0],[11,-0.0505,1.7],[52,-0.0502,-1.0],[39,-0.0498,2.4],
[7,-0.0495,-3.3],[24,-0.0492,0.8],[70,-0.0489,-0.5],[15,-0.0485,1.5],[48,-0.0482,-1.9],[31,-0.0479,2.7],[0,-0.0476,-0.2],[57,-0.0472,0.9],[20,-0.0469,-2.7],[43,-0.0466,1.1],
[64,-0.0463,-0.8],[9,-0.0459,2.0],[36,-0.0456,-1.3],[51,-0.0453,0.4],[25,-0.0450,3.0],[68,-0.0446,-2.0],[4,-0.0443,0.7],[41,-0.0440,-0.3],[17,-0.0437,1.9],[59,-0.0433,-1.5],
[30,-0.0430,0.2],[13,-0.0427,2.6],[47,-0.0424,-0.9],[62,-0.0420,1.3],[6,-0.0417,-2.5],[38,-0.0414,0.5],[22,-0.0411,-1.1],[55,-0.0407,2.2],[1,-0.0404,-0.6],[44,-0.0401,1.0],
[69,-0.0398,-3.0],[28,-0.0394,0.3],[12,-0.0391,1.6],[53,-0.0388,-1.7],[35,-0.0385,0.8],[19,-0.0381,-0.1],[61,-0.0378,2.8],[3,-0.0375,-1.2],[46,-0.0372,0.6],[26,-0.0368,-2.4],
[71,-0.0365,1.4],[10,-0.0362,-0.4],[40,-0.0359,2.1],[56,-0.0355,-0.9],[23,-0.0352,0.2],[65,-0.0349,-1.8],[8,-0.0346,1.1],[34,-0.0342,-0.6],[49,-0.0339,2.5],[16,-0.0336,-2.9],
[58,-0.0333,0.7],[29,-0.0329,-0.2],[5,-0.0326,1.8],[42,-0.0323,-1.4],[67,-0.0320,0.4],[14,-0.0316,2.3],[50,-0.0313,-0.7],[32,-0.0310,1.0],[21,-0.0307,-2.1],[63,-0.0303,0.1],
[37,-0.0300,-1.0],[0,-0.0297,2.6],[54,-0.0294,-0.3],[19,-0.0290,1.3],[45,-0.0287,-2.6],[9,-0.0284,0.6],[70,-0.0281,-0.8],[27,-0.0277,1.7],[60,-0.0274,-1.3],[4,-0.0271,3.1],
[39,-0.0268,-0.5],[15,-0.0264,0.9],[52,-0.0261,-1.9],[31,-0.0258,0.3],[66,-0.0255,1.5],[2,-0.0251,-2.2],[47,-0.0248,0.8],[24,-0.0245,-0.1],[57,-0.0242,2.0],[11,-0.0238,-1.5],
[43,-0.0235,0.5],[68,-0.0232,-0.7],[20,-0.0229,2.4],[35,-0.0225,-1.1],[6,-0.0222,0.2],[51,-0.0219,-2.8],[29,-0.0216,1.2],[62,-0.0212,-0.4],[13,-0.0209,1.9],[40,-0.0206,-1.6],
[25,-0.0203,0.7],[58,-0.0199,-0.2],[1,-0.0196,2.8],[46,-0.0193,-0.9],[33,-0.0190,0.4],[64,-0.0186,-2.3],[17,-0.0183,1.4],[53,-0.0180,-0.6],[8,-0.0177,0.9],[38,-0.0173,-1.8],
[71,-0.0170,2.1],[22,-0.0167,-0.3],[49,-0.0164,1.1],[12,-0.0160,-2.6],[56,-0.0157,0.5],[30,-0.0154,-1.0],[67,-0.0151,1.7],[3,-0.0147,-0.4],[42,-0.0144,3.2],[18,-0.0141,-1.4],
[61,-0.0138,0.2],[36,-0.0134,-0.8],[10,-0.0131,1.5],[48,-0.0128,-2.0],[26,-0.0125,0.6],[65,-0.0121,-0.2],[5,-0.0118,2.3],[44,-0.0115,-1.2],[21,-0.0112,0.8],[59,-0.0108,-3.1],
[32,-0.0105,1.0],[14,-0.0102,-0.5],[54,-0.0099,1.8],[0,-0.0095,-1.7],[41,-0.0092,0.3],[69,-0.0089,2.6],[23,-0.0086,-0.7],[50,-0.0082,0.9],[7,-0.0079,-2.4],[37,-0.0076,1.2],
[63,-0.0073,-0.1],[16,-0.0069,1.6],[45,-0.0066,-1.3],[28,-0.0063,0.4],[60,-0.0060,-0.9],[2,-0.0056,2.2],[39,-0.0053,-2.1],[19,-0.0050,0.7],[55,-0.0047,-0.4],[34,-0.0043,1.4],
[70,-0.0040,-1.6],[9,-0.0037,0.1],[47,-0.0034,2.9],[24,-0.0030,-0.8],[66,-0.0027,1.1],[13,-0.0024,-2.7],[52,-0.0021,0.5],[31,-0.0017,-0.2],[4,-0.0014,1.9],[43,-0.0011,-1.1],
[62,-0.0008,0.6],[20,-0.0004,-1.9],[57,-0.0001,1.3],[35,0.0002,-0.6],[11,0.0005,2.4],[49,0.0009,-0.3],[27,0.0012,0.8],[68,0.0015,-2.3],[6,0.0018,1.5],[40,0.0022,-0.9],
[17,0.0025,0.2],[58,0.0028,-1.4],[30,0.0031,2.7],[1,0.0035,-0.5],[44,0.0038,1.0],[64,0.0041,-2.9],[22,0.0044,0.4],[53,0.0048,-0.1],[10,0.0051,1.7],[36,0.0054,-1.2],
[71,0.0057,0.9],[14,0.0061,-0.7],[48,0.0064,2.1],[25,0.0067,-1.8],[61,0.0070,0.3],[3,0.0074,-0.4],[42,0.0077,1.4],[18,0.0080,-2.5],[56,0.0083,0.6],[33,0.0087,1.9],
[65,0.0090,-1.0],[8,0.0093,0.1],[46,0.0096,-0.8],[29,0.0100,2.5],[59,0.0103,-1.5],[12,0.0106,0.7],[50,0.0109,-0.2],[37,0.0113,1.2],[5,0.0116,-2.2],[67,0.0119,0.5],
[21,0.0122,-0.6],[54,0.0126,3.0],[31,0.0129,-1.1],[0,0.0132,0.4],[41,0.0135,-1.9],[63,0.0139,1.0],[16,0.0142,-0.3],[52,0.0145,1.6],[26,0.0148,-2.8],[69,0.0152,0.8],
[9,0.0155,-0.5],[38,0.0158,2.2],[57,0.0161,-1.3],[23,0.0165,0.2],[45,0.0168,-0.7],[2,0.0171,1.8],[66,0.0174,-2.0],[34,0.0178,0.6],[13,0.0181,-0.2],[55,0.0184,2.6],
[28,0.0187,-1.2],[70,0.0191,0.9],[7,0.0194,-2.4],[47,0.0197,0.3],[19,0.0200,1.5],[60,0.0204,-0.8],[36,0.0207,2.0],[4,0.0210,-1.6],[43,0.0213,0.1],[64,0.0217,-0.4],
[24,0.0220,1.3],[51,0.0223,-3.0],[11,0.0226,0.7],[39,0.0230,-1.0],[68,0.0233,2.3],[17,0.0236,-0.6],[58,0.0239,0.5],[32,0.0243,-1.7],[1,0.0246,1.1],[49,0.0249,-0.3],
[27,0.0252,2.8],[62,0.0256,-1.4],[10,0.0259,0.4],[44,0.0262,-2.2],[20,0.0265,1.0],[56,0.0269,-0.1],[35,0.0272,1.7],[6,0.0275,-0.9],[67,0.0278,0.6],[15,0.0282,-2.6],
[53,0.0285,1.4],[30,0.0288,-0.5],[71,0.0291,2.1],[3,0.0295,-1.1],[40,0.0298,0.2],[61,0.0301,-0.7],[22,0.0304,1.9],[48,0.0308,-2.0],[8,0.0311,0.8],[37,0.0314,-0.2],
[65,0.0317,2.5],[14,0.0321,-1.5],[54,0.0324,0.5],[26,0.0327,-0.8],[59,0.0330,1.2],[0,0.0334,-2.8],[45,0.0337,0.3],[18,0.0340,1.6],[50,0.0343,-0.4],[33,0.0347,-1.8],
[69,0.0350,0.9],[9,0.0353,2.7],[42,0.0356,-0.6],[23,0.0360,0.1],[63,0.0363,-2.3],[5,0.0366,1.3],[46,0.0369,-1.0],[29,0.0373,0.6],[57,0.0376,2.0],[12,0.0379,-0.3],
[38,0.0382,-1.4],[70,0.0386,0.4],[19,0.0389,1.8],[52,0.0392,-2.5],[2,0.0395,0.7],[44,0.0399,-0.1],[66,0.0402,1.1],[25,0.0405,-1.2],[60,0.0408,3.1],[34,0.0412,-0.7],
[7,0.0415,0.2],[48,0.0418,-1.9],[16,0.0421,1.5],[55,0.0425,-0.4],[31,0.0428,0.9],[64,0.0431,-2.7],[11,0.0434,0.5],[40,0.0438,2.3],[21,0.0441,-1.0],[58,0.0444,0.0],
[36,0.0447,-0.6],[4,0.0451,1.7],[47,0.0454,-1.5],[68,0.0457,0.8],[28,0.0460,-0.2],[53,0.0464,2.5],[13,0.0467,-2.1],[39,0.0470,0.3],[62,0.0473,-0.8],[1,0.0477,1.2],
[43,0.0480,-1.3],[22,0.0483,2.9],[56,0.0486,-0.5],[35,0.0490,0.6],[67,0.0493,-2.2],[17,0.0496,1.0],[50,0.0499,-0.3],[27,0.0503,1.9],[8,0.0506,-1.7],[45,0.0509,0.4],
[71,0.0512,-0.9],[14,0.0516,2.2],[59,0.0519,-1.1],[32,0.0522,0.7],[3,0.0525,-2.4],[41,0.0529,1.4],[24,0.0532,-0.2],[61,0.0535,0.9],[10,0.0538,-1.6],[49,0.0542,2.6],
[37,0.0545,-0.7],[65,0.0548,0.3],[20,0.0551,-1.3],[54,0.0555,1.6],[6,0.0558,-2.9],[46,0.0561,0.5],[30,0.0564,-0.4],[69,0.0568,2.0],[15,0.0571,-1.0],[52,0.0574,0.8],
[0,0.0577,-0.1],[42,0.0581,1.3],[26,0.0584,-2.2],[63,0.0587,0.6],[9,0.0590,2.4],[38,0.0594,-0.8],[57,0.0597,0.2],[18,0.0600,-1.5],[48,0.0603,1.1],[33,0.0607,-0.5],
[70,0.0610,1.8],[5,0.0613,-2.6],[44,0.0616,0.4],[23,0.0620,-0.3],[60,0.0623,2.2],[12,0.0626,-1.2],[51,0.0629,0.7],[29,0.0633,-1.9],[66,0.0636,1.0],[2,0.0639,-0.6],
[40,0.0642,2.8],[19,0.0646,-1.4],[55,0.0649,0.3],[35,0.0652,-0.9]
];

// ---------- marker shapes (unit size, clockwise) ----------
const MS = 29;
const markerPts = {
  'v': [[-0.5, -0.5], [0.5, -0.5], [0, 0.5]],
  '^': [[0, -0.5], [0.5, 0.5], [-0.5, 0.5]],
  '<': [[-0.5, 0], [0.5, -0.5], [0.5, 0.5]],
  '>': [[0.5, 0], [-0.5, 0.5], [-0.5, -0.5]],
  's': [[-0.5, -0.5], [0.5, -0.5], [0.5, 0.5], [-0.5, 0.5]],
  '*': [[0, -0.5], [0.112, -0.155], [0.476, -0.155], [0.182, 0.059], [0.294, 0.405], [0, 0.191],
        [-0.294, 0.405], [-0.182, 0.059], [-0.476, -0.155], [-0.112, -0.155]],
  'h': [[0, -0.5], [0.433, -0.25], [0.433, 0.25], [0, 0.5], [-0.433, 0.25], [-0.433, -0.25]],
  'H': [[-0.5, 0], [-0.25, -0.433], [0.25, -0.433], [0.5, 0], [0.25, 0.433], [-0.25, 0.433]],
  'D': [[0, -0.707], [0.707, 0], [0, 0.707], [-0.707, 0]],
  'd': [[0, -0.707], [0.424, 0], [0, 0.707], [-0.424, 0]],
  'P': [[-0.167, -0.5], [0.167, -0.5], [0.167, -0.167], [0.5, -0.167], [0.5, 0.167], [0.167, 0.167],
        [0.167, 0.5], [-0.167, 0.5], [-0.167, 0.167], [-0.5, 0.167], [-0.5, -0.167], [-0.167, -0.167]],
  'X': [[-0.357, -0.5], [0, -0.143], [0.357, -0.5], [0.5, -0.357], [0.143, 0], [0.5, 0.357],
        [0.357, 0.5], [0, 0.143], [-0.357, 0.5], [-0.5, 0.357], [-0.143, 0], [-0.5, -0.357]]
};

function markerGraphic(key, x, y, style) {
  if (key === 'o') return { type: 'circle', shape: { cx: x, cy: y, r: MS / 2 }, style: style };
  return { type: 'polygon', shape: { points: markerPts[key].map(p => [x + p[0] * MS, y + p[1] * MS]) }, style: style };
}

// legend handle: errorbar line with the marker on it
function legendIcon(key) {
  const h = MS / 2;
  let d = 'M-2.75,-21h5.5v42h-5.5Z';
  if (key === 'o') d += 'M' + (-h) + ',0a' + h + ',' + h + ' 0 1,1 ' + MS + ',0a' + h + ',' + h + ' 0 1,1 ' + (-MS) + ',0Z';
  else d += 'M' + markerPts[key].map(p => (p[0] * MS).toFixed(2) + ',' + (p[1] * MS).toFixed(2)).join('L') + 'Z';
  return 'path://' + d;
}

// which AAVSO set a colour/marker pair belongs to
function setIndex(c, m) {
  for (let i = 0; i < setLabels.length; i++) {
    if (i % 9 === c && i % 13 === m) return i;
  }
  return c;
}

function errorbarItem(api, colour, key, barWidth, barAlpha, markAlpha) {
  const ph = api.value(0), fl = api.value(1), er = api.value(2);
  const c = api.coord([ph, fl]);
  const hi = api.coord([ph, fl + er]);
  const lo = api.coord([ph, fl - er]);
  const mStyle = markAlpha < 1
    ? { fill: colour, stroke: colour, lineWidth: 3, opacity: markAlpha }
    : { fill: colour, stroke: 'none' };
  return {
    type: 'group',
    children: [
      { type: 'line', shape: { x1: c[0], y1: hi[1], x2: c[0], y2: lo[1] }, style: { stroke: colour, lineWidth: barWidth, opacity: barAlpha } },
      markerGraphic(key, c[0], c[1], mStyle)
    ]
  };
}

const FONT = 'DejaVu Sans';
const minus = v => (v < 0 ? '\u2212' : '') + Math.abs(v);
const fmt2 = v => (v < 0 ? '\u2212' : '') + Math.abs(v).toFixed(2);

// ---------- series ----------
const series = [];
setLabels.forEach((lab, i) => {
  const col = setColors[i % 9];
  series.push({
    name: 'ds' + i, type: 'custom', xAxisIndex: 0, yAxisIndex: 0, z: 2, clip: true,
    itemStyle: { color: col }, encode: { x: 0, y: 1 },
    data: setPoints.filter(p => setIndex(p[0], p[1]) === i).map(p => [p[2], p[3], p[4], p[1]]),
    renderItem: (params, api) => errorbarItem(api, col, markerKeys[api.value(3)], 5.5, 1, 1)
  });
});
setLabels.forEach((lab, i) => {
  const col = setColors[i % 9];
  const key = markerKeys[i % 13];
  series.push({
    name: 'ds' + i, type: 'custom', xAxisIndex: 0, yAxisIndex: 0, z: 1, clip: true,
    itemStyle: { color: col }, encode: { x: 0, y: 1 },
    data: rawPoints.filter(p => p[0] === i).map(p => [p[1], p[2], p[3]]),
    renderItem: (params, api) => errorbarItem(api, col, key, 9, 0.16, 0.12)
  });
  series.push({
    name: 'ds' + i, type: 'custom', xAxisIndex: 1, yAxisIndex: 1, z: 2, clip: true,
    itemStyle: { color: col }, encode: { x: 0, y: 1 },
    data: residPoints.filter(p => p[0] === i).map(p => [p[1], p[2]]),
    renderItem: (params, api) => {
      const c = api.coord([api.value(0), api.value(1)]);
      return markerGraphic(key, c[0], c[1], { fill: col, stroke: col, lineWidth: 3.5, opacity: 0.25 });
    }
  });
});
series.push({
  name: 'model', type: 'line', xAxisIndex: 0, yAxisIndex: 0, z: 3, silent: true,
  symbol: 'none', showSymbol: false, clip: true,
  itemStyle: { color: '#ff0000' }, lineStyle: { color: '#ff0000', width: 12.5 },
  data: modelPhase.map((p, k) => [p, modelFlux[k]])
});
series.push({
  name: 'binned', type: 'scatter', xAxisIndex: 0, yAxisIndex: 0, z: 4, symbol: 'circle', symbolSize: 62,
  itemStyle: { color: '#ffffff', borderColor: '#000000', borderWidth: 4.5, opacity: 1 },
  data: binPhase.map((p, k) => [p, binFlux[k]])
});
series.push({
  name: 'binned', type: 'scatter', xAxisIndex: 1, yAxisIndex: 1, z: 4, symbol: 'circle', symbolSize: 46,
  itemStyle: { color: '#ffffff', borderColor: '#000000', borderWidth: 4, opacity: 1 },
  data: binPhase.map((p, k) => [p, binResid[k]])
});

// ---------- legend ----------
function legendText(name) {
  if (name === 'binned') return 'Binned Data: ' + binLabel + ' %';
  if (name === 'model') {
    return '{i|R}{sup|2}{sub|p}{n|/}{i|R}{sup|2}{sub|s}{n| = ' + fitDepth + '}\n' +
           '{i|T}{sub|mid}{n| = ' + fitTmid + ' BJD}{sub|TDB}';
  }
  return 'AAVSO: ' + setLabels[+name.slice(2)] + ' %';
}
const legendCols = [[0, 6], [6, 13], [13, 20], [20, 27], [27, 34], [34, 41], [41, 48], [48, 55], [55, 61], [61, 67], [67, 72]];
const colCenter = [305, 1367, 1883, 2399, 2915, 3432, 3947, 4463, 4978, 5492, 6008];
const legendBase = {
  orient: 'vertical', padding: 0, itemWidth: 144, itemHeight: 42, itemGap: 20.8,
  selectedMode: false, z: 6, formatter: legendText,
  textStyle: { fontSize: 41.7, fontFamily: FONT, color: '#000', lineHeight: 42 }
};
const legends = [];
legends.push(Object.assign({}, legendBase, {
  left: 233, top: 1739, itemHeight: 13,
  data: [{ name: 'model', icon: 'path://M0,0h96v13h-96Z', itemStyle: { color: '#ff0000', borderWidth: 0 } }],
  textStyle: {
    fontSize: 41.7, fontFamily: FONT, color: '#000', lineHeight: 63,
    rich: {
      n: { fontSize: 41.7, fontFamily: FONT, lineHeight: 63 },
      i: { fontSize: 41.7, fontFamily: FONT, fontStyle: 'italic', lineHeight: 63 },
      sup: { fontSize: 29, fontFamily: FONT, lineHeight: 42, verticalAlign: 'top' },
      sub: { fontSize: 29, fontFamily: FONT, fontStyle: 'italic', lineHeight: 34, verticalAlign: 'bottom' }
    }
  }
}));
legendCols.forEach((r, k) => {
  const ids = [];
  for (let i = r[0]; i < r[1]; i++) ids.push(i);
  legends.push(Object.assign({}, legendBase, {
    left: colCenter[k] - 72, top: k === 0 ? 1874 : 1781,
    data: ids.map(i => ({ name: 'ds' + i, icon: legendIcon(markerKeys[i % 13]), itemStyle: { color: setColors[i % 9], borderWidth: 0, opacity: 1 } }))
  }));
});
legends.push(Object.assign({}, legendBase, {
  left: colCenter[10] - 72, top: 2087, itemHeight: 58,
  data: [{ name: 'binned', icon: 'circle', itemStyle: { color: '#ffffff', borderColor: '#000000', borderWidth: 4.5 } }]
}));

// ---------- axes ----------
const tickStyle = { show: true, length: 15, lineStyle: { color: '#000', width: 3.3 } };
const labelStyle = { fontSize: 41.7, fontFamily: FONT, color: '#000' };
const gridLine = { show: true, lineStyle: { color: '#b0b0b0', width: 3, type: [13, 6] } };

// the figure is laid out on a 6560x3192 canvas and fitted to the window
const box = document.getElementById('chart-container');
const sx = (window.innerWidth || 6560) / 6560;
const sy = (window.innerHeight || 3192) / 3192;
box.style.transform = 'scale(' + sx + ',' + sy + ')';

const chart = echarts.init(box, null, { renderer: 'canvas', devicePixelRatio: 1 });
chart.setOption({
  animation: false,
  backgroundColor: '#ffffff',
  textStyle: { fontFamily: FONT },
  grid: [
    { left: 226, top: 28, width: 3959, height: 2242, show: true, borderColor: '#000', borderWidth: 3.3, backgroundColor: 'transparent' },
    { left: 226, top: 2270, width: 3959, height: 746, show: true, borderColor: '#000', borderWidth: 3.3, backgroundColor: 'transparent' }
  ],
  xAxis: [
    { gridIndex: 0, type: 'value', min: -0.0530, max: 0.0655, axisLine: { show: false }, axisTick: { show: false }, axisLabel: { show: false }, splitLine: { show: false } },
    { gridIndex: 1, type: 'value', min: -0.0530, max: 0.0655, axisLine: { show: false },
      axisTick: Object.assign({ customValues: xTicks }, tickStyle),
      axisLabel: Object.assign({ customValues: xTicks, formatter: fmt2, margin: 27 }, labelStyle),
      splitLine: { show: false } }
  ],
  yAxis: [
    { gridIndex: 0, type: 'value', min: 0.94042, max: 1.03442, axisLine: { show: false },
      axisTick: Object.assign({ customValues: fluxTicks }, tickStyle),
      axisLabel: Object.assign({ customValues: fluxTicks, formatter: v => v.toFixed(2), margin: 31 }, labelStyle),
      splitLine: gridLine },
    { gridIndex: 1, type: 'value', min: -3.423, max: 3.442, axisLine: { show: false },
      axisTick: Object.assign({ customValues: residTicks }, tickStyle),
      axisLabel: Object.assign({ customValues: residTicks, formatter: minus, margin: 31 }, labelStyle),
      splitLine: { show: true, lineStyle: { color: '#999999', width: 3, type: [13, 6] } } }
  ],
  legend: legends,
  graphic: {
    elements: [
      { type: 'rect', z: 5, silent: true, shape: { x: 245, y: 1727, width: 6279, height: 521, r: 14 },
        style: { fill: 'rgba(255,255,255,0.8)', stroke: 'rgba(204,204,204,0.8)', lineWidth: 3.3 } },
      { type: 'text', z: 5, x: 56, y: 1149, rotation: Math.PI / 2,
        style: { text: 'Relative Flux', fontSize: 58.3, fontFamily: FONT, fill: '#000', align: 'center', verticalAlign: 'middle' } },
      { type: 'text', z: 5, x: 85, y: 2643, rotation: Math.PI / 2,
        style: { text: 'Residuals [%]', fontSize: 58.3, fontFamily: FONT, fill: '#000', align: 'center', verticalAlign: 'middle' } },
      { type: 'text', z: 5, x: 2205, y: 3132,
        style: { text: 'Phase', fontSize: 58.3, fontFamily: FONT, fill: '#000', align: 'center', verticalAlign: 'middle' } }
    ]
  },
  series: series
});
</script>
</body>
</html>
